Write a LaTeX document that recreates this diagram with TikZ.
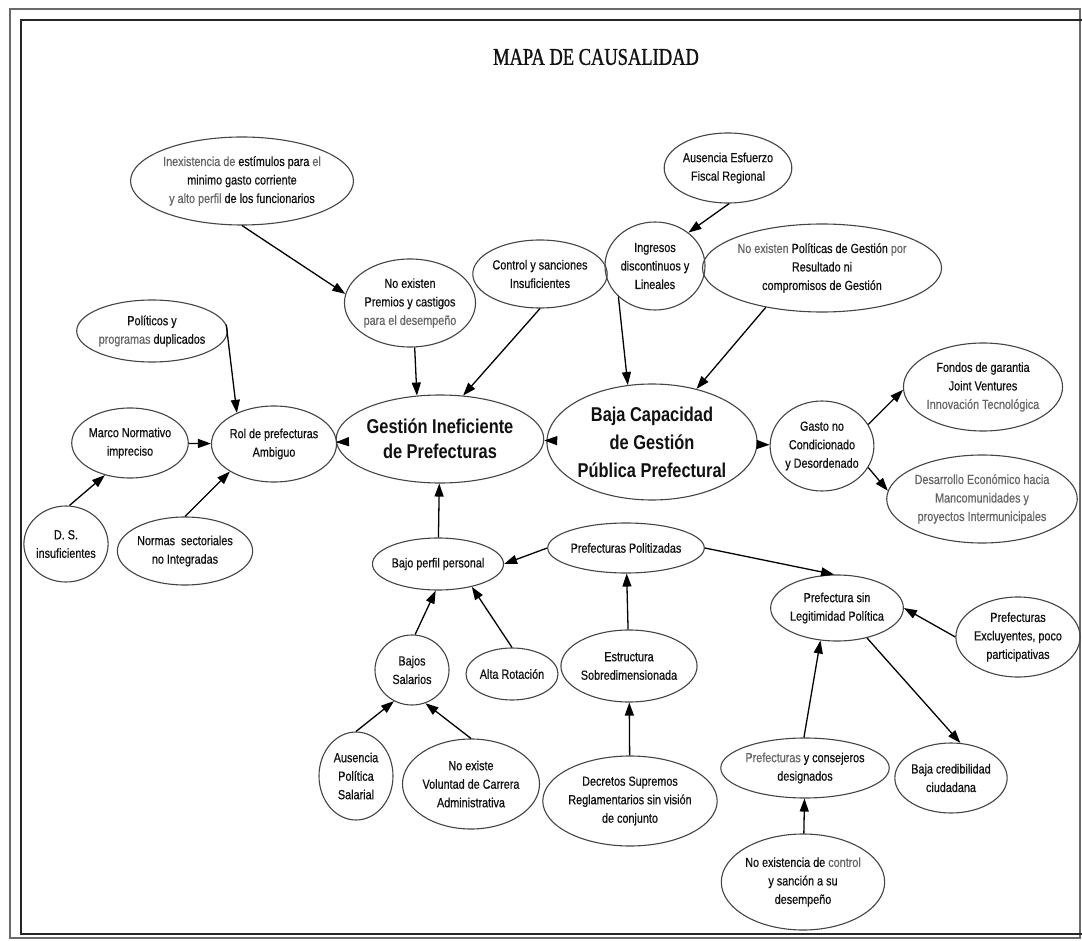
\documentclass[tikz,border=0pt]{standalone}
\usepackage{fontspec}
\setmainfont{Liberation Sans}[FakeStretch=0.82, UprightFeatures={FakeBold=0.6}]
\newfontfamily\titlefont{Liberation Serif}[FakeStretch=0.77, FakeBold=1]
\usetikzlibrary{shapes.geometric,arrows.meta}
\definecolor{ellc}{HTML}{444444}
\definecolor{txt}{HTML}{111111}
\definecolor{gtx}{HTML}{666666}
\definecolor{frm}{HTML}{6A6A6A}
\newcommand\gry[1]{\textcolor{gtx}{#1}}
\tikzset{
  bub/.style={ellipse, draw=ellc, line width=1.1pt, inner sep=0pt, align=center,
    font=\fontsize{13.2}{18.5}\selectfont, text=txt},
  big/.style={bub, font=\bfseries\fontsize{20}{25}\selectfont},
  sz/.style 2 args={minimum width=#1pt, minimum height=#2pt},
  arr/.style={draw=black, line width=1.3pt, -{Triangle[length=13pt,width=9pt]}},
}
\begin{document}
\begin{tikzpicture}[x=1pt,y=-1pt]
\useasboundingbox (0,0) rectangle (1082,941);
\fill[white] (0,0) rectangle (1082,941);
% frame
\draw[frm, line width=1.4pt] (10,9) rectangle (1080,938);
\draw[black!85, line width=2pt] (1082,20) -- (21,20) -- (21,934) -- (1082,934);
\node[font=\titlefont\fontsize{24}{26}\selectfont, text=txt] (title) at (596,57) {MAPA DE CAUSALIDAD};
% nodes
\node[bub, sz={192}{88}] (inex) at (242,181) {\gry{Inexistencia de} estímulos para \gry{el}\\minimo gasto corriente\\\gry{y alto perfil} de los funcionarios};
\node[bub, sz={114}{88}] (pre) at (410,303) {No existen\\Premios y castigos\\\gry{para el desempeño}};
\node[bub, sz={116}{68}] (con) at (540,274) {Control y sanciones\\Insuficientes};
\node[bub, sz={100}{88}] (ing) at (655,266) {Ingresos\\discontinuos y\\Lineales};
\node[bub, sz={124}{70}] (aus) at (728,168) {Ausencia Esfuerzo\\Fiscal Regional};
\node[bub, sz={202}{88}] (pol2) at (822,268) {\gry{No existen} Políticas de Gestión \gry{por}\\Resultado ni\\compromisos de Gestión};
\node[bub, sz={136}{62}] (pol) at (152,331) {Políticos y\\\gry{programas} duplicados};
\node[bub, sz={114}{70}] (mar) at (130,443) {Marco Normativo\\impreciso};
\node[bub, sz={118}{76}] (rol) at (274,444) {Rol de prefecturas\\Ambiguo};
\node[bub, sz={82}{76}] (ds) at (66,544) {D. S.\\insuficientes};
\node[bub, sz={132}{68}] (nor) at (185,551) {Normas\ \ sectoriales\\no Integradas};
\node[big, sz={180}{88}] (ges) at (440,439) {Gestión Ineficiente\\de Prefecturas};
\node[big, sz={178}{116}, font=\bfseries\fontsize{20}{28}\selectfont] (baj) at (652,442) {Baja Capacidad\\de Gestión\\Pública Prefectural};
\node[bub, sz={102}{90}] (gas) at (822,446) {Gasto no\\Condicionado\\y Desordenado};
\node[bub, sz={142}{88}] (fon) at (983,387) {Fondos de garantia\\Joint Ventures\\\gry{Innovación Tecnológica}};
\node[bub, sz={164}{88}] (des) at (982,499) {\gry{Desarrollo Económico hacia}\\\gry{Mancomunidades y}\\\gry{proyectos Intermunicipales}};
\node[bub, sz={122}{52}] (bpp) at (438,564) {Bajo perfil personal};
\node[bub, sz={140}{50}] (pol3) at (626,548) {Prefecturas Politizadas};
\node[bub, sz={74}{70}] (bsa) at (412,670) {Bajos\\Salarios};
\node[bub, sz={92}{52}] (alt) at (512,674) {Alta Rotación};
\node[bub, sz={124}{72}] (est) at (629,666) {Estructura\\Sobredimensionada};
\node[bub, sz={122}{66}] (psl) at (837,608) {Prefectura sin\\Legitimidad Política};
\node[bub, sz={120}{80}] (exc) at (1018,637) {Prefecturas\\Excluyentes, poco\\participativas};
\node[bub, sz={74}{88}] (aps) at (356,776) {Ausencia\\Política\\Salarial};
\node[bub, sz={130}{90}] (vol) at (471,784) {No existe\\Voluntad de Carrera\\Administrativa};
\node[bub, sz={156}{90}] (dec) at (630,801) {Decretos Supremos\\Reglamentarios sin visión\\de conjunto};
\node[bub, sz={142}{60}] (con2) at (805,768) {\gry{Prefecturas} y consejeros\\designados};
\node[bub, sz={90}{70}] (bcr) at (951,778) {Baja credibilidad\\ciudadana};
\node[bub, sz={144}{96}] (nec) at (803,882) {No existencia de \gry{control}\\y sanción a su\\desempeño};
% connectors
\draw[arr] (inex.-90) -- (pre.172);
\draw[arr] (pol.5) -- (rol.140);
\draw[arr] (mar) -- (rol);
\draw[arr] (ds.85) -- (mar.232);
\draw[arr] (nor.90) -- (rol.212);
\draw[arr] (rol) -- (ges);
\draw[arr] (pre.-84) -- (ges.118);
\draw[arr] (con.-90) -- (ges.62);
\draw[arr] (baj) -- (ges);
\draw[arr] (ing.220) -- (baj.113);
\draw[arr] (aus.-88) -- (ing.45);
\draw[arr] (pol2.215) -- (baj.50);
\draw[arr] (baj) -- (gas);
\draw[arr] (gas.25) -- (fon.182);
\draw[arr] (gas.-25) -- (des.175);
\draw[arr] (bpp) -- (ges);
\draw[arr] (pol3.west) -- (bpp.east);
\draw[arr] (pol3.east) -- (psl.95);
\draw[arr] (bsa.85) -- (bpp.-95);
\draw[arr] (alt.90) -- (bpp.-34);
\draw[arr] (est) -- (pol3);
\draw[arr] (dec) -- (est);
\draw[arr] (aps.90) -- (bsa.-120);
\draw[arr] (vol.90) -- (bsa.-68);
\draw[arr] (exc.180) -- (psl.0);
\draw[arr] (con2.92) -- (psl.-117);
\draw[arr] (psl.-45) -- (bcr.75);
\draw[arr] (nec) -- (con2);
\end{tikzpicture}
\end{document}
